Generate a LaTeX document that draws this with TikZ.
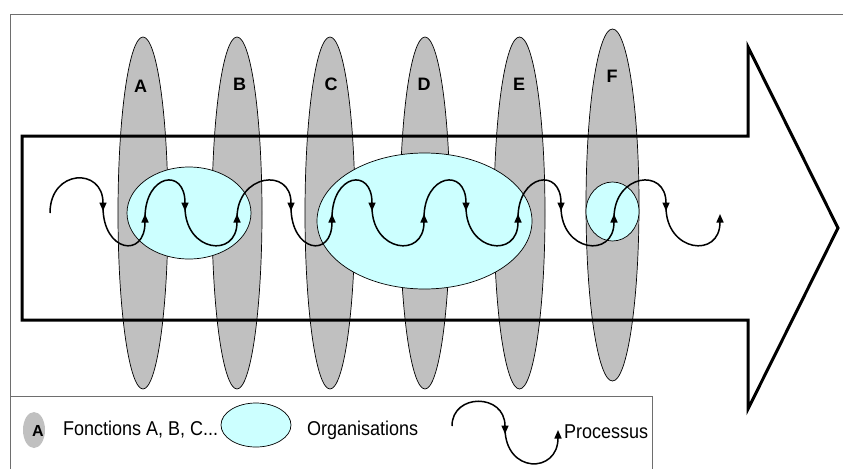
\documentclass[tikz,border=0pt]{standalone}
\usepackage{fontspec}
\setmainfont{Liberation Sans}
\newfontfamily\legfont[FakeStretch=0.9]{Liberation Sans}
\usetikzlibrary{arrows.meta,shapes.geometric}
\definecolor{fgray}{HTML}{C0C0C0}
\definecolor{orgcyan}{HTML}{CCFFFF}
\definecolor{framegray}{HTML}{6E6E6E}
\begin{document}
\begin{tikzpicture}[x=1pt,y=-1pt,
  func/.style={ellipse, draw=black, line width=0.7pt, fill=fgray, inner sep=0pt, outer sep=0pt},
  org/.style={ellipse, draw=black, line width=0.7pt, fill=orgcyan, inner sep=0pt, outer sep=0pt},
  flab/.style={font=\fontsize{18}{18}\selectfont\bfseries, inner sep=0pt},
  legtext/.style={font=\legfont\fontsize{20}{20}\selectfont, inner sep=0pt, anchor=west},
  proc/.style={line width=1.5pt, -{Triangle[length=8.5pt,width=7pt]}},
  frameline/.style={draw=framegray, line width=0.9pt},
  bigarrow/.style={draw=black, line width=3pt, line join=miter}]
\useasboundingbox (0,0) rectangle (843,469);
% frame
\draw[frameline] (843,14) -- (10,14) -- (10,469);
\draw[frameline] (10,396) -- (652,396) -- (652,469);
% functions
\node[func, minimum width=50pt, minimum height=352pt] (fA) at (143,213) {};
\node[func, minimum width=50pt, minimum height=352pt] (fB) at (237,213) {};
\node[func, minimum width=50pt, minimum height=352pt] (fC) at (330,213) {};
\node[func, minimum width=50pt, minimum height=352pt] (fD) at (425,213) {};
\node[func, minimum width=51pt, minimum height=352pt] (fE) at (519.5,213) {};
\node[func, minimum width=53pt, minimum height=352pt] (fF) at (612.5,205) {};
\node[flab] (lA) at (140.5,86.5) {A};
\node[flab] (lB) at (239.5,84.5) {B};
\node[flab] (lC) at (331,84.5) {C};
\node[flab] (lD) at (424,84.5) {D};
\node[flab] (lE) at (519,84.5) {E};
\node[flab] (lF) at (612,76.5) {F};
% big arrow
\draw[bigarrow] (22,136) -- (748,136) -- (748,47) -- (838,228) -- (748,409) -- (748,320) -- (22,320) -- cycle;
% organisations
\node[org, minimum width=124pt, minimum height=92pt] (o1) at (189,213) {};
\node[org, minimum width=215pt, minimum height=136pt] (o2) at (424.5,221) {};
\node[org, minimum width=53pt, minimum height=59pt] (o3) at (612.5,211.5) {};
% process
\draw[proc] (50,213) .. controls (50,169) and (103,167) .. (103,211);
\foreach \a/\b in {145/185, 237/291, 332/372, 424/466, 518/561, 614/666}
  \draw[proc] (\a,218) .. controls (\a,174) and (\b,167) .. (\b,211);
\foreach \a/\b in {103/145, 185/237, 291/332, 372/424, 466/518, 561/614, 666/720}
  \draw[proc] (\a,207) .. controls (\a,252) and (\b,259) .. (\b,214);
% legend
\node[ellipse, fill=fgray, minimum width=22pt, minimum height=36pt, inner sep=0pt] (legf) at (34,430) {};
\node[font=\fontsize{16}{16}\selectfont\bfseries, inner sep=0pt] (legA) at (38,431) {A};
\node[legtext] (tF) at (63,430) {Fonctions A, B, C...};
\node[org, minimum width=70pt, minimum height=44pt] (lego) at (256,425) {};
\node[legtext] (tO) at (307,430) {Organisations};
\draw[proc] (452,426) .. controls (452,393) and (505,393) .. (505,434);
\draw[proc] (505,428) .. controls (505,474) and (558,474) .. (558,430);
\node[legtext] (tP) at (564,432) {Processus};
\end{tikzpicture}
\end{document}
